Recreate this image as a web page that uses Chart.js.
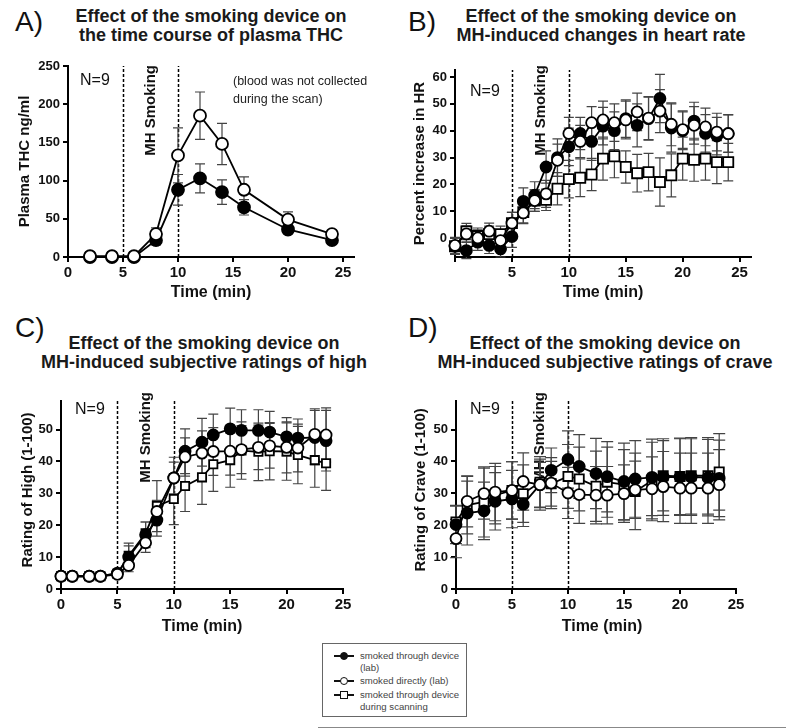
<!DOCTYPE html>
<html>
<head>
<meta charset="utf-8">
<script src="https://cdn.jsdelivr.net/npm/chart.js@4.4.0/dist/chart.umd.min.js"></script>
<style>
  body { margin: 0; background: #fff; width: 786px; height: 728px; position: relative; overflow: hidden;
         font-family: "Liberation Sans", Arial, sans-serif; }
  canvas { position: absolute; }
  .letter { position: absolute; font-size: 28px; color: #111; line-height: 28px; }
  .title { position: absolute; width: 420px; margin-left: -210px; text-align: center; font-weight: bold;
           font-size: 18px; line-height: 19px; color: #1a1a1a; white-space: nowrap; }
  .legend { position: absolute; left: 322px; top: 643px; width: 143px; height: 72px; border: 1px solid #666;
            font-size: 9.6px; color: #444; line-height: 12px; }
  .row { position: absolute; left: 0; }
  .mk { position: absolute; left: 11px; width: 20px; height: 2px; background: #111; top: 5px; }
  .dot { position: absolute; left: 6px; top: -3px; width: 6px; height: 6px; border: 1.2px solid #111; border-radius: 50%; background: #fff; }
  .dot.fill { background: #111; }
  .dot.sq { border-radius: 0; }
  .txt { position: absolute; left: 37px; white-space: nowrap; }
  .rule { position: absolute; left: 318px; top: 727px; width: 468px; height: 1px; background: #888; }
</style>
</head>
<body>

<div class="letter" style="left:15px;top:8px;">A)</div>
<div class="title" style="left:211px;top:7px;">Effect of the smoking device on<br>the time course of plasma THC</div>
<div class="letter" style="left:408px;top:8px;">B)</div>
<div class="title" style="left:601px;top:7px;">Effect of the smoking device on<br>MH-induced changes in heart rate</div>
<div class="letter" style="left:15px;top:314px;">C)</div>
<div class="title" style="left:204px;top:334px;">Effect of the smoking device on<br>MH-induced subjective ratings of high</div>
<div class="letter" style="left:408px;top:314px;">D)</div>
<div class="title" style="left:605px;top:334px;">Effect of the smoking device on<br>MH-induced subjective ratings of crave</div>

<canvas id="chartA" width="393" height="250" style="left:0;top:55px;"></canvas>
<canvas id="chartB" width="393" height="250" style="left:393px;top:55px;"></canvas>
<canvas id="chartC" width="393" height="250" style="left:0;top:390px;"></canvas>
<canvas id="chartD" width="393" height="250" style="left:393px;top:390px;"></canvas>

<div class="legend">
  <div class="row" style="top:6px;"><span class="mk"><span class="dot fill"></span></span><span class="txt">smoked through device</span></div>
  <div class="row" style="top:18px;"><span class="txt">(lab)</span></div>
  <div class="row" style="top:31px;"><span class="mk"><span class="dot"></span></span><span class="txt">smoked directly (lab)</span></div>
  <div class="row" style="top:45px;"><span class="mk"><span class="dot sq"></span></span><span class="txt">smoked through device</span></div>
  <div class="row" style="top:57px;"><span class="txt">during scanning</span></div>
</div>
<div class="rule"></div>

<script>
// A) plasma THC
var aTime = [2, 4, 6, 8, 10, 12, 14, 16, 20, 24];
var aDevice = [0, 0, 0, 22, 88, 103, 85, 65, 36, 22];
var aDeviceErr = [0, 0, 0, 6, 20, 19, 16, 10, 3, 2];
var aDirect = [1, 1, 1, 30, 133, 185, 148, 88, 49, 30];
var aDirectErr = [0, 0, 0, 8, 36, 31, 27, 17, 10, 3];

// B) heart rate
var bTime = [0, 1, 2, 3, 4, 5, 6, 7, 8, 9, 10, 11, 12, 13, 14, 15, 16, 17, 18, 19, 20, 21, 22, 23, 24];
var bDevice = [-3, -4.6, -1.5, -2.7, -4, 0.6, 13.7, 16, 26.5, 30, 34, 39, 36, 41.7, 40, 44.5, 42, 44.5, 52, 41, 40, 43.6, 39, 38, 39];
var bDeviceErr = [3, 3, 3, 3, 3, 4, 5, 5, 6, 7, 7, 6, 7, 7, 7, 7, 8, 8, 9, 9, 7, 7, 7, 7, 7];
var bDirect = [-2.7, 1.6, 0.1, 2.6, -0.9, 5.6, 9.4, 14, 16.5, 29, 39, 36, 43, 44, 43, 44, 47, 44.7, 47.3, 42.4, 40.4, 42, 41.4, 39.5, 38.9];
var bDirectErr = [3, 3, 3, 3, 3, 4, 4, 4, 5, 6, 6, 6, 6, 7, 7, 7, 7, 8, 8, 8, 7, 7, 7, 7, 7];
var bScan = [-3, 2.5, 0.8, 1.5, 1.5, 5.6, 9.7, 14, 14.3, 18.4, 22, 22.5, 23.7, 29.6, 30.5, 26.5, 24.2, 24.6, 20.9, 23.4, 29.6, 29.2, 29.6, 28.3, 28.3];
var bScanErr = [3, 3, 3, 3, 3, 4, 4, 4, 4, 6, 7, 7, 6, 8, 8, 6, 7, 7, 9, 8, 8, 8, 8, 8, 7];

// C) rating of high
var cTime = [0, 1, 2.5, 3.5, 5, 6, 7.5, 8.5, 10, 11, 12.5, 13.5, 15, 16, 17.5, 18.5, 20, 21, 22.5, 23.5];
var cDevice = [4, 4, 4, 4, 5, 10, 17, 21.6, 34.8, 43.2, 46, 48.3, 50.2, 49.7, 49.7, 49.2, 47.7, 47.3, 47.5, 46.5];
var cDeviceErr = [0, 0, 0, 0, 0.5, 3.5, 4, 5, 6.5, 7, 7.5, 6.5, 6.5, 6.5, 6.5, 6.5, 6, 6, 8.5, 9.5];
var cDirect = [4, 4, 4, 4, 4.6, 7.4, 14.5, 24.3, 34.8, 41.4, 42.6, 43.1, 43.2, 43.7, 44.4, 44.9, 44.4, 44.2, 48.5, 48.3];
var cDirectErr = [0, 0, 0, 0, 0.5, 2, 3, 3.5, 5, 6, 7, 7.5, 7.5, 7.5, 7, 7, 8, 7.5, 8, 8.5];
var cScan = [4, 4, 4, 4, 4.8, 10.4, 17.5, 26, 28.2, 32.3, 35, 39.1, 40.4, 43.4, 43, 43.2, 43.1, 42, 40.4, 39.4];
var cScanErr = [0, 0, 0, 0, 0.5, 4, 3.5, 8, 8, 8, 8.5, 8.5, 8.5, 9, 9, 9, 9, 9, 8.5, 8.5];

// D) rating of crave
var dTime = [0, 1, 2.5, 3.5, 5, 6, 7.5, 8.5, 10, 11, 12.5, 13.5, 15, 16, 17.5, 18.5, 20, 21, 22.5, 23.5];
var dDevice = [20.2, 23.8, 24.5, 27.5, 28.2, 26.6, 32.7, 37.2, 40.6, 38.4, 36.2, 35.2, 33.7, 34.5, 35, 35.1, 35.1, 35.1, 34.9, 34.7];
var dDeviceErr = [6, 10, 9, 9, 9, 7, 7, 7, 9, 10, 11, 11, 12, 12, 12, 12, 12, 12, 12, 12];
var dDirect = [15.8, 27.5, 29.9, 30.4, 30.9, 33.7, 32.7, 33.2, 30.1, 29.6, 29.4, 29.4, 29.9, 31.1, 31.4, 32.1, 31.6, 31.6, 31.6, 32.7];
var dDirectErr = [6, 8, 8, 9, 9, 9, 8, 8, 8, 9, 9, 9, 9, 9, 10, 11, 11, 11, 11, 11];
var dScan = [21, 26.3, 27.3, 29.4, 30.9, 29.9, 33.5, 33, 35.3, 34.5, 32.2, 33.5, 32.7, 30.6, 34, 35.5, 35.3, 35.5, 35.5, 36.7];
var dScanErr = [5, 9, 11, 9, 9, 9, 8, 7, 10, 10, 11, 11, 11, 12, 12, 11, 12, 12, 12, 12];

var FONT = '"Liberation Sans", Arial, sans-serif';

function pts(xs, ys) {
    return xs.map(function (x, i) { return { x: x, y: ys[i] }; });
}

function series(xs, ys, errs, kind, r) {
    return {
        data: pts(xs, ys),
        errors: errs,
        borderColor: '#000',
        borderWidth: 1.8,
        pointStyle: kind === 'scan' ? 'rect' : 'circle',
        pointRadius: kind === 'scan' ? r * 1.3 : r,
        pointHoverRadius: kind === 'scan' ? r * 1.3 : r,
        pointBackgroundColor: kind === 'device' ? '#000' : '#fff',
        pointBorderColor: '#000',
        pointBorderWidth: 1.8,
        tension: 0,
        clip: false
    };
}

function makePanel(id, p) {
    var decor = {
        id: 'decor',
        beforeDatasetsDraw: function (chart) {
            var ctx = chart.ctx, a = chart.chartArea;
            var xs = chart.scales.x, ys = chart.scales.y;
            ctx.save();
            // dashed markers at 5 and 10 min
            ctx.strokeStyle = '#000';
            ctx.lineWidth = 1.5;
            ctx.setLineDash([3, 2]);
            [5, 10].forEach(function (v) {
                var px = Math.round(xs.getPixelForValue(v)) + 0.5;
                ctx.beginPath();
                ctx.moveTo(px, a.bottom);
                ctx.lineTo(px, a.top);
                ctx.stroke();
            });
            ctx.setLineDash([]);
            // N=9
            ctx.fillStyle = '#111';
            ctx.font = '16px ' + FONT;
            ctx.textAlign = 'left';
            ctx.textBaseline = 'middle';
            ctx.fillText('N=9', p.nX, p.nY);
            // MH Smoking
            ctx.save();
            ctx.translate(xs.getPixelForValue(7.5), p.mhTop);
            ctx.rotate(-Math.PI / 2);
            ctx.font = 'bold 15px ' + FONT;
            ctx.textAlign = 'right';
            ctx.textBaseline = 'middle';
            ctx.fillText('MH Smoking', 0, 0);
            ctx.restore();
            if (p.note) {
                ctx.font = '12.5px ' + FONT;
                ctx.fillStyle = '#222';
                ctx.fillText(p.note[0], p.noteX, p.noteY);
                ctx.fillText(p.note[1], p.noteX, p.noteY + 18);
            }
            // error bars under the markers
            ctx.strokeStyle = '#444';
            ctx.lineWidth = 1.2;
            chart.data.datasets.forEach(function (ds, di) {
                var meta = chart.getDatasetMeta(di);
                meta.data.forEach(function (el, i) {
                    var e = ds.errors[i];
                    if (!e) return;
                    var v = ds.data[i].y;
                    var y1 = ys.getPixelForValue(v + e), y2 = ys.getPixelForValue(v - e);
                    ctx.beginPath();
                    ctx.moveTo(el.x, y1); ctx.lineTo(el.x, y2);
                    ctx.moveTo(el.x - p.cap, y1); ctx.lineTo(el.x + p.cap, y1);
                    ctx.moveTo(el.x - p.cap, y2); ctx.lineTo(el.x + p.cap, y2);
                    ctx.stroke();
                });
            });
            ctx.restore();
        },
        afterDraw: function (chart) {
            var ctx = chart.ctx, a = chart.chartArea;
            ctx.save();
            ctx.fillStyle = '#111';
            ctx.textAlign = 'center';
            ctx.textBaseline = 'middle';
            ctx.font = 'bold 16px ' + FONT;
            ctx.fillText('Time (min)', (a.left + a.right) / 2 + (p.xtOff || 0), p.xtY);
            ctx.translate(p.ytX, (a.top + a.bottom) / 2 - (p.ytOff || 0));
            ctx.rotate(-Math.PI / 2);
            ctx.font = 'bold 15px ' + FONT;
            ctx.fillText(p.yTitle, 0, 0);
            ctx.restore();
        }
    };

    var axisGrid = { display: true, drawOnChartArea: false, drawTicks: true, tickLength: 5, color: '#000', lineWidth: 2 };
    var axisBorder = { display: true, color: '#000', width: 2 };

    return new Chart(document.getElementById(id), {
        type: 'line',
        data: { datasets: p.datasets },
        options: {
            responsive: false,
            animation: false,
            devicePixelRatio: 1,
            layout: { padding: { top: p.padTop, right: p.padRight, left: 0, bottom: 0 } },
            plugins: { legend: { display: false }, tooltip: { enabled: false } },
            scales: {
                x: {
                    type: 'linear', min: p.xMin, max: p.xMax,
                    grid: axisGrid, border: axisBorder,
                    ticks: {
                        stepSize: 5, includeBounds: false, autoSkip: false, maxRotation: 0, padding: 2,
                        color: '#111', font: { family: FONT, size: 15, weight: 'bold' },
                        callback: function (v) { return (p.hideZero && v === 0) ? '' : v; }
                    },
                    afterFit: function (s) { s.height = p.xHeight; }
                },
                y: {
                    min: p.yMin, max: p.yMax,
                    grid: axisGrid, border: axisBorder,
                    ticks: {
                        stepSize: p.yStep, includeBounds: false, autoSkip: false, padding: 3,
                        color: '#111', font: { family: FONT, size: 13, weight: 'bold' }
                    },
                    afterFit: function (s) { s.width = p.yWidth; }
                }
            }
        },
        plugins: [decor]
    });
}

makePanel('chartA', {
    datasets: [
        series(aTime, aDirect, aDirectErr, 'direct', 6),
        series(aTime, aDevice, aDeviceErr, 'device', 6)
    ],
    xMin: 0, xMax: 26, yMin: 0, yMax: 250, yStep: 50,
    padTop: 11, padRight: 39, yWidth: 68, xHeight: 48,
    cap: 5, nX: 80, nY: 26, mhTop: 10, xtY: 238, ytX: 25, yTitle: 'Plasma THC ng/ml',
    note: ['(blood was not collected', 'during the scan)'], noteX: 233, noteY: 27
});

makePanel('chartB', {
    datasets: [
        series(bTime, bDirect, bDirectErr, 'direct', 5.5),
        series(bTime, bDevice, bDeviceErr, 'device', 5.5),
        series(bTime, bScan, bScanErr, 'scan', 5.5)
    ],
    xMin: 0, xMax: 26, yMin: -7, yMax: 62.6, yStep: 10, hideZero: true,
    padTop: 15, padRight: 35, yWidth: 62, xHeight: 48,
    cap: 5, nX: 77, nY: 37, mhTop: 10, xtY: 238, ytX: 27, yTitle: 'Percent increase in HR'
});

makePanel('chartC', {
    datasets: [
        series(cTime, cDirect, cDirectErr, 'direct', 5.5),
        series(cTime, cDevice, cDeviceErr, 'device', 5.5),
        series(cTime, cScan, cScanErr, 'scan', 4.5)
    ],
    xMin: 0, xMax: 25, yMin: 0, yMax: 59, yStep: 10,
    padTop: 5, padRight: 50, yWidth: 61, xHeight: 51,
    cap: 5, nX: 75, nY: 20, mhTop: 2, xtY: 237, ytX: 28, ytOff: 5, yTitle: 'Rating of High (1-100)'
});

makePanel('chartD', {
    datasets: [
        series(dTime, dDirect, dDirectErr, 'direct', 5.5),
        series(dTime, dDevice, dDeviceErr, 'device', 5.5),
        series(dTime, dScan, dScanErr, 'scan', 5)
    ],
    xMin: 0, xMax: 25, yMin: 0, yMax: 59, yStep: 10,
    padTop: 5, padRight: 50, yWidth: 63, xHeight: 51,
    cap: 6, nX: 77, nY: 20, mhTop: 2, xtY: 237, xtOff: 6, ytX: 28, ytOff: 5, yTitle: 'Rating of Crave (1-100)'
});
</script>
</body>
</html>
